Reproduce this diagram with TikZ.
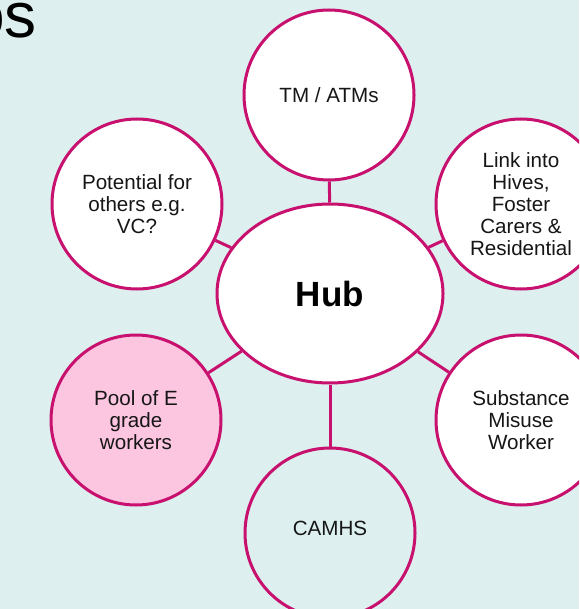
\documentclass[tikz,border=0pt]{standalone}
\usepackage{fontspec}
\setmainfont{Liberation Sans}
\usepackage{tikz}
\usetikzlibrary{shapes.geometric}

\definecolor{bgcyan}{HTML}{DDF0EF}
\definecolor{rim}{HTML}{C8106E}
\definecolor{poolpink}{HTML}{FCC5E0}
\definecolor{ink}{HTML}{161616}

\begin{document}
\begin{tikzpicture}[
    x=1pt, y=-1pt,
    bubble/.style={circle, draw=rim, line width=3pt, fill=white, minimum size=170pt, inner sep=0pt, align=center, text=ink, font=\fontsize{20.6}{22}\selectfont},
    hubnode/.style={ellipse, draw=rim, line width=3pt, fill=white, minimum width=226pt, minimum height=179pt, inner sep=0pt, font=\fontsize{35}{40}\selectfont\bfseries},
    link/.style={draw=rim, line width=3pt}
]
\clip (0,0) rectangle (579,609);
\fill[bgcyan] (0,0) rectangle (579,609);

% Title
\node[anchor=base east, inner sep=0pt, font=\fontsize{64}{70}\selectfont] (title) at (37,38) {os};

% Nodes
\node[hubnode] (hub) at (330,293.5) {Hub};
\node[bubble] (tm) at (329,95) {TM / ATMs};
\node[bubble] (potential) at (137,204) {Potential for\\others e.g.\\VC?};
\node[bubble] (hives) at (521,204) {Link into\\Hives,\\Foster\\Carers \&\\Residential};
\node[bubble, fill=poolpink] (pool) at (136,420) {Pool of E\\grade\\workers};
\node[bubble] (substance) at (521,420) {Substance\\Misuse\\Worker};
\node[bubble, fill=none, label={[yshift=5pt, text=ink, font=\fontsize{20.6}{22}\selectfont]center:CAMHS}] (camhs) at (330,533) {};

% Lines
\draw[link] (hub) -- (tm);
\draw[link] (hub) -- (potential);
\draw[link] (hub) -- (hives);
\draw[link] (hub) -- (pool);
\draw[link] (hub) -- (substance);
\draw[link] (hub) -- (camhs);
\end{tikzpicture}
\end{document}
